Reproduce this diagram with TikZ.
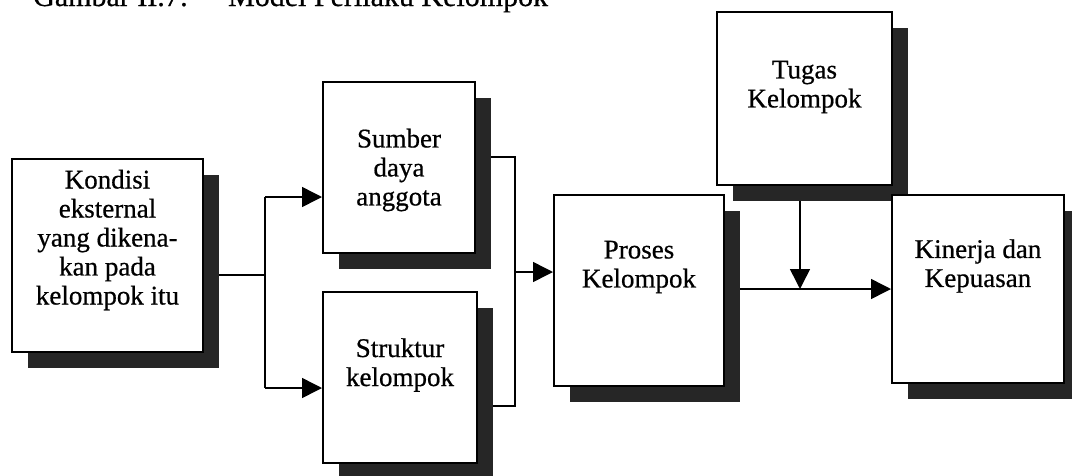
\documentclass[tikz,border=0pt]{standalone}
\usepackage{fontspec}
\setmainfont{Liberation Serif}[FakeBold=0.6]
\usetikzlibrary{arrows.meta,shadows,backgrounds}
\begin{document}
\begin{tikzpicture}[x=1pt,y=-1pt,
  box/.style={draw=black, line width=2pt, fill=white, inner sep=0pt,
    drop shadow={shadow xshift=16pt, shadow yshift=-16pt, fill=black!85, opacity=1}},
  lbl/.style={align=center, font=\fontsize{27}{29}\selectfont, inner sep=0pt},
  conn/.style={line width=1.5pt},
  arr/.style={conn, -{Triangle[length=20pt,width=20pt]}},
]
\useasboundingbox (0,0) rectangle (1072,475);
\clip (0,0) rectangle (1072,475);

\node[anchor=base west, inner sep=0pt, font=\fontsize{30}{34}\selectfont] (cap) at (33,6) {Gambar II.7:\hspace{40pt}Model Perilaku Kelompok};

\node[box, minimum width=191pt, minimum height=193pt] (kondisi) at (107.5,255.5) {};
\node[box, minimum width=152pt, minimum height=171pt] (sumber) at (399,167.5) {};
\node[box, minimum width=154pt, minimum height=171pt] (struktur) at (400,377.5) {};
\node[box, minimum width=170pt, minimum height=191pt] (proses) at (639,290.5) {};
\node[box, minimum width=175pt, minimum height=173pt] (tugas) at (804.5,98.5) {};
\node[box, minimum width=172pt, minimum height=188pt] (kinerja) at (978,289) {};

\node[lbl] (tkondisi) at (107.5,240) {Kondisi\\eksternal\\yang dikena-\\kan pada\\kelompok itu};
\node[lbl] (tsumber) at (399,170) {Sumber\\daya\\anggota};
\node[lbl] (tstruktur) at (400,365) {Struktur\\kelompok};
\node[lbl] (tproses) at (639,267) {Proses\\Kelompok};
\node[lbl] (ttugas) at (804.5,87) {Tugas\\Kelompok};
\node[lbl] (tkinerja) at (978,266) {Kinerja dan\\Kepuasan};

\begin{scope}[on background layer]
  \coordinate (f1) at (265,275);
  \coordinate (fa) at (265,197);
  \coordinate (fb) at (265,388);
  \draw[conn] (kondisi.east |- f1) -- (f1);
  \draw[conn] (fa) -- (fb);
  \draw[arr] (fa) -- (fa -| sumber.west);
  \draw[arr] (fb) -- (fb -| struktur.west);
  \coordinate (ma) at (515,157);
  \coordinate (mb) at (515,406);
  \coordinate (mc) at (515,272);
  \draw[conn] (sumber.east |- ma) -- (ma) -- (mb) -- (struktur.east |- mb);
  \draw[arr] (mc) -- (mc -| proses.west);
  \coordinate (jo) at (800,289);
  \draw[arr] (proses.east |- jo) -- (kinerja.west |- jo);
  \draw[arr] (jo |- tugas.south) -- (jo);
\end{scope}
\end{tikzpicture}
\end{document}
